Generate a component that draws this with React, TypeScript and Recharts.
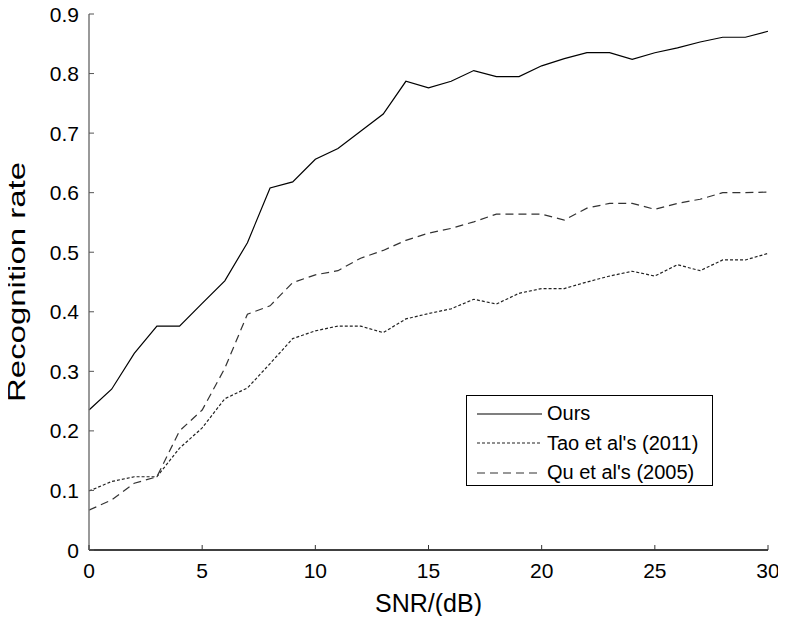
import React from "react";
import { LineChart, Line, XAxis, YAxis, Legend, Label } from "recharts";

const snr = [0,1,2,3,4,5,6,7,8,9,10,11,12,13,14,15,16,17,18,19,20,21,22,23,24,25,26,27,28,29,30];
const ours = [0.235,0.270,0.330,0.376,0.376,0.414,0.452,0.516,0.608,0.618,0.656,0.674,0.703,0.732,0.787,0.776,0.787,0.805,0.795,0.795,0.813,0.825,0.835,0.835,0.824,0.835,0.843,0.853,0.861,0.861,0.871];
const tao = [0.099,0.115,0.123,0.123,0.171,0.205,0.254,0.272,0.313,0.355,0.368,0.376,0.376,0.365,0.388,0.397,0.405,0.421,0.413,0.431,0.439,0.439,0.450,0.460,0.468,0.460,0.479,0.469,0.487,0.487,0.498];
const qu = [0.067,0.084,0.112,0.123,0.200,0.235,0.305,0.396,0.410,0.449,0.462,0.469,0.490,0.503,0.520,0.532,0.540,0.551,0.564,0.564,0.564,0.554,0.574,0.582,0.582,0.572,0.582,0.589,0.600,0.600,0.601];
const xTicks = [0,5,10,15,20,25,30];
const yTicks = [0,0.1,0.2,0.3,0.4,0.5,0.6,0.7,0.8,0.9];
const seriesNames = ["Ours", "Tao et al's (2011)", "Qu et al's (2005)"];
const xLabel = "SNR/(dB)";
const yLabel = "Recognition rate";

const data = snr.map((x, i) => ({ snr: x, ours: ours[i], tao: tao[i], qu: qu[i] }));

const FONT = "'Liberation Sans', Arial, Helvetica, sans-serif";
const TICK = 5;

const BottomTick = (p: any) => (
  <g>
    <line x1={p.x} x2={p.x} y1={p.y} y2={p.y - TICK} stroke="#333" strokeWidth={1} />
    <text x={p.x} y={p.y + 28} textAnchor="middle" fontSize={21} fontFamily={FONT} fill="#000">
      {p.payload.value}
    </text>
  </g>
);
const TopTick = (p: any) => (
  <line x1={p.x} x2={p.x} y1={p.y} y2={p.y + TICK} stroke="#333" strokeWidth={1} />
);
const LeftTick = (p: any) => (
  <g>
    <line x1={p.x} x2={p.x + TICK} y1={p.y} y2={p.y} stroke="#555" strokeWidth={1} />
    <text x={p.x - 10} y={p.y + 7.5} textAnchor="end" fontSize={21} fontFamily={FONT} fill="#000">
      {p.payload.value}
    </text>
  </g>
);
const RightTick = (p: any) => (
  <line x1={p.x} x2={p.x - TICK} y1={p.y} y2={p.y} stroke="#555" strokeWidth={1} />
);

const YLabel = (props: any) => {
  const vb = props.viewBox || { x: 0, y: 0, width: 0, height: 0 };
  const cx = vb.x + 16;
  const cy = vb.y + vb.height / 2;
  return (
    <text
      x={cx}
      y={cy}
      transform={`rotate(-90, ${cx}, ${cy})`}
      textAnchor="middle"
      dominantBaseline="central"
      fontSize={24}
      fontFamily={FONT}
      fill="#000"
      textLength={240}
      lengthAdjust="spacingAndGlyphs"
    >
      {yLabel}
    </text>
  );
};

const styles = [
  { key: "ours", color: "#000", dash: undefined as string | undefined },
  { key: "tao", color: "#222", dash: "3 2" },
  { key: "qu", color: "#333", dash: "8 5" },
];

const LegendBox = () => (
  <div
    style={{
      border: "1px solid #000",
      background: "#fff",
      width: 245,
      height: 86,
      boxSizing: "content-box",
      fontFamily: FONT,
      fontSize: 20,
      paddingTop: 3,
    }}
  >
    {styles.map((s, i) => (
      <div key={s.key} style={{ display: "flex", alignItems: "center", height: 29.5, whiteSpace: "nowrap" }}>
        <svg width={80} height={10} style={{ marginLeft: 10, flexShrink: 0 }}>
          <line x1={0} x2={65} y1={5} y2={5} stroke={s.color} strokeWidth={1.2} strokeDasharray={s.dash} />
        </svg>
        <span style={{ marginLeft: -10 }}>{seriesNames[i]}</span>
      </div>
    ))}
  </div>
);

export default function App() {
  return (
    <div style={{ width: 786, height: 624, position: "relative", margin: -8 }}>
      <LineChart
        width={786}
        height={624}
        data={data}
        margin={{ top: 14, right: 18, left: 0, bottom: 0 }}
        style={{ background: "#fff" }}
      >
        <XAxis
          dataKey="snr"
          type="number"
          domain={[0, 30]}
          ticks={xTicks}
          height={74}
          tickSize={0}
          tickMargin={0}
          tick={<BottomTick />}
          axisLine={{ stroke: "#000", strokeWidth: 1.5 }}
          interval={0}
        >
          <Label value={xLabel} position="center" dy={16} style={{ fontSize: 25, fontFamily: FONT, fill: "#000" }} />
        </XAxis>
        <XAxis
          xAxisId="top"
          orientation="top"
          dataKey="snr"
          type="number"
          domain={[0, 30]}
          ticks={xTicks}
          height={0}
          tickSize={0}
          tickMargin={0}
          tick={<TopTick />}
          axisLine={{ stroke: "#777", strokeWidth: 1.5 }}
          interval={0}
        />
        <YAxis
          type="number"
          domain={[0, 0.9]}
          ticks={yTicks}
          width={89}
          tickSize={0}
          tickMargin={0}
          tick={<LeftTick />}
          axisLine={{ stroke: "#777", strokeWidth: 1.5 }}
          interval={0}
        >
          <Label content={<YLabel />} />
        </YAxis>
        <YAxis
          yAxisId="right"
          orientation="right"
          type="number"
          domain={[0, 0.9]}
          ticks={yTicks}
          width={0}
          tickSize={0}
          tickMargin={0}
          tick={<RightTick />}
          axisLine={{ stroke: "#999", strokeWidth: 1.5 }}
          interval={0}
        />
        {styles.map((s, i) => (
          <Line
            key={s.key}
            type="linear"
            dataKey={s.key}
            name={seriesNames[i]}
            stroke={s.color}
            strokeWidth={1.2}
            strokeDasharray={s.dash}
            dot={false}
            activeDot={false}
            isAnimationActive={false}
          />
        ))}
        <Legend
          layout="vertical"
          align="center"
          verticalAlign="middle"
          content={<LegendBox />}
          wrapperStyle={{ left: 466, top: 395, width: 247, height: 91 }}
        />
      </LineChart>
    </div>
  );
}
